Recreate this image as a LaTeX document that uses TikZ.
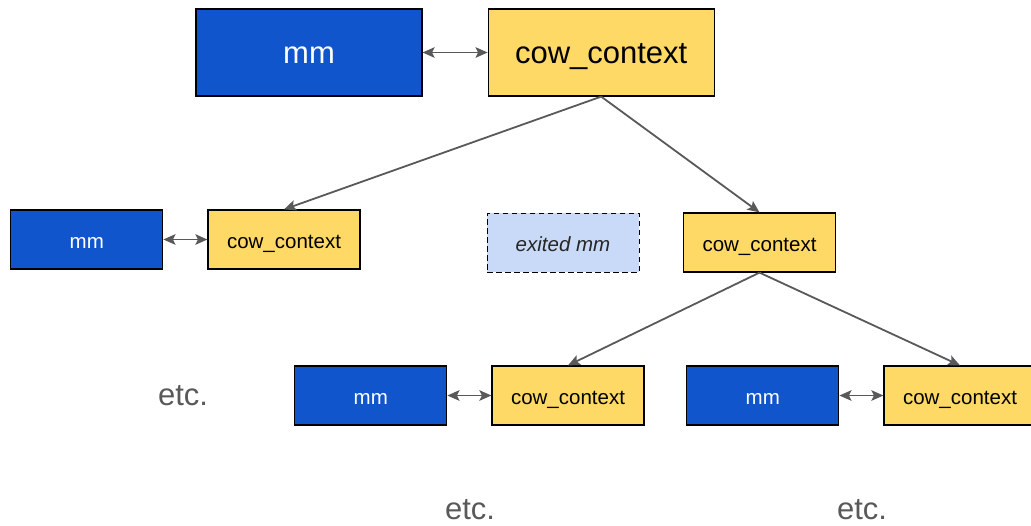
\documentclass[tikz,border=0pt]{standalone}
\usepackage{fontspec}
\setmainfont{Liberation Sans}
\usepackage{tikz}
\usetikzlibrary{positioning, arrows.meta}
\definecolor{mmblue}{HTML}{1155CC}
\definecolor{cowyellow}{HTML}{FFD966}
\definecolor{exitblue}{HTML}{C9DAF8}
\definecolor{linegray}{HTML}{595959}

\begin{document}
\begin{tikzpicture}[x=1pt, y=-1pt]
	% Define styles
	\tikzset{
		bigbox/.style={rectangle, draw=black, line width=1.2pt, minimum width=226pt, minimum height=87pt, inner sep=0pt, text height=24pt, text depth=2pt, font=\fontsize{31}{36}\selectfont},
		smallbox/.style={rectangle, draw=black, line width=1.2pt, minimum width=152pt, minimum height=59pt, inner sep=0pt, text height=19pt, text depth=1.3pt, font=\fontsize{20.5}{24}\selectfont},
		mmbox/.style={fill=mmblue, text=white},
		cowbox/.style={fill=cowyellow, text=black},
		exitbox/.style={smallbox, fill=exitblue, line width=1pt, dash pattern=on 5.5pt off 3.5pt, text=black!85, font=\fontsize{20.5}{24}\selectfont\itshape},
		line/.style={draw=linegray, line width=1.8pt, -{Stealth[length=12pt, width=10.5pt, inset=2.5pt]}},
		twoway/.style={draw=linegray, line width=1.8pt, {Stealth[length=12pt, width=10.5pt, inset=2.5pt]}-{Stealth[length=12pt, width=10.5pt, inset=2.5pt]}},
		etc/.style={text=linegray, font=\fontsize{31}{36}\selectfont}
	}
	\useasboundingbox (0,0) rectangle (1031,525);
	
	% Nodes
	\node[bigbox, mmbox] (mm) at (309,52.5) {mm};
	\node[bigbox, cowbox, right=65pt of mm] (cow) {cow\_context};
	
	\node[smallbox, cowbox] (cowl) at (284,239.5) {cow\_context};
	\node[smallbox, mmbox, left=44pt of cowl] (mml) {mm};
	\node[exitbox] (exit) at (563,242.5) {exited mm};
	\node[smallbox, cowbox] (cowr) at (759.5,242.5) {cow\_context};
	
	\node[smallbox, cowbox] (cowrl) at (568,395.5) {cow\_context};
	\node[smallbox, mmbox, left=44pt of cowrl] (mmrl) {mm};
	\node[smallbox, cowbox] (cowrr) at (960,395.5) {cow\_context};
	\node[smallbox, mmbox, left=44pt of cowrr] (mmrr) {mm};
	
	\node[etc] (etcl) at (183,396) {etc.};
	\node[etc] (etcm) at (470,510) {etc.};
	\node[etc] (etcr) at (862,510) {etc.};
	
	% Arrows
	\draw[twoway] (mm) -- (cow);
	\draw[twoway] (mml) -- (cowl);
	\draw[twoway] (mmrl) -- (cowrl);
	\draw[twoway] (mmrr) -- (cowrr);
	
	\draw[line] (cow.south) -- (cowl.north);
	\draw[line] (cow.south) -- (cowr.north);
	\draw[line] (cowr.south) -- (cowrl.north);
	\draw[line] (cowr.south) -- (cowrr.north);
	
\end{tikzpicture}
\end{document}
